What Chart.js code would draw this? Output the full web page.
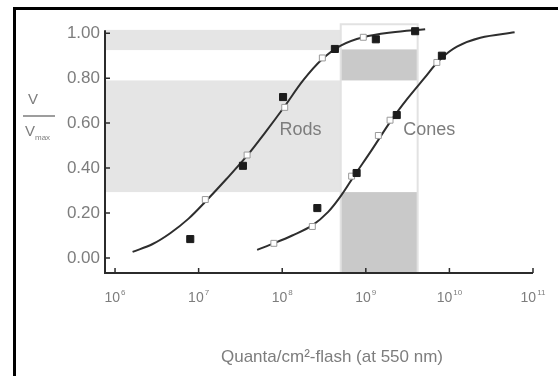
<!DOCTYPE html>
<html><head><meta charset="utf-8">
<script src="https://cdn.jsdelivr.net/npm/chart.js@4/dist/chart.umd.min.js"></script>
<style>html,body{margin:0;padding:0;background:#fff}#wrap{position:relative;width:558px;height:376px;overflow:hidden}
#frame{position:absolute;left:13px;top:7px;width:560px;height:380px;border-left:3px solid #000;border-top:3px solid #000;pointer-events:none}</style>
</head><body><div id="wrap"><canvas id="c" width="558" height="376"></canvas><div id="frame"></div></div>
<script>
// ---- data (x values as log10 exponents) ----
const xTickExps = [6, 7, 8, 9, 10, 11];
const yTickValues = [0, 0.2, 0.4, 0.6, 0.8, 1.0];

const rodsCurveExp = [6.21, 6.45, 6.66, 6.88, 7.08, 7.33, 7.58, 7.80, 8.03, 8.25, 8.48, 8.70, 8.97, 9.30, 9.71];
const rodsCurveV   = [0.027, 0.062, 0.11, 0.175, 0.25, 0.35, 0.455, 0.56, 0.675, 0.79, 0.885, 0.945, 0.982, 1.003, 1.018];
const conesCurveExp = [7.70, 7.90, 8.12, 8.36, 8.55, 8.70, 8.86, 9.07, 9.30, 9.50, 9.70, 9.88, 10.09, 10.37, 10.78];
const conesCurveV   = [0.036, 0.065, 0.10, 0.145, 0.205, 0.275, 0.365, 0.48, 0.61, 0.71, 0.80, 0.88, 0.94, 0.98, 1.004];

const rodsFilledExp = [6.90, 7.53, 8.01, 8.63, 9.12, 9.59];
const rodsFilledV   = [0.084, 0.41, 0.716, 0.93, 0.973, 1.009];
const rodsOpenExp = [7.08, 7.58, 8.03, 8.48, 8.97];
const rodsOpenV   = [0.26, 0.458, 0.67, 0.89, 0.982];
const conesFilledExp = [8.42, 8.89, 9.37, 9.91];
const conesFilledV   = [0.222, 0.378, 0.636, 0.90];
const conesOpenExp = [7.90, 8.36, 8.83, 9.15, 9.29, 9.85];
const conesOpenV   = [0.065, 0.14, 0.364, 0.545, 0.613, 0.87];

// shaded ranges: [x0Exp, x1Exp, v0, v1]
const rodRangeBands  = [[5.88, 8.70, 0.925, 1.015], [5.88, 8.70, 0.293, 0.79]];
const coneRangeBands = [[8.70, 9.62, 0.79, 0.928], [8.70, 9.62, -0.067, 0.293]];
const coneColumn = [8.70, 9.62, -0.067, 1.04];

const curveLabels = ["Rods", "Cones"];
const curveLabelExp = [8.22, 9.76];
const curveLabelV = [0.57, 0.57];

const xTitle = 'Quanta/cm²-flash (at 550 nm)';
const xTickBase = '10';
const xMinExp = 5.88, xMaxExp = 11;
const yMin = -0.067, yMax = 1.05, yAxisTop = 1.013;

// ---- build ----
const pts = (ex, v) => ex.map((e, i) => ({x: Math.pow(10, e), y: v[i]}));
const FONT = "'Liberation Sans', Arial, sans-serif";
const TXT = '#7d7d7d';

const decor = {
  id: 'decor',
  beforeDatasetsDraw(chart) {
    const {ctx, scales: {x, y}} = chart;
    const X = e => x.getPixelForValue(Math.pow(10, e));
    const Y = v => y.getPixelForValue(v);
    ctx.save();
    ctx.fillStyle = '#e5e5e5';
    rodRangeBands.forEach(b => ctx.fillRect(X(b[0]), Y(b[3]), X(b[1]) - X(b[0]), Y(b[2]) - Y(b[3])));
    ctx.fillStyle = '#c9c9c9';
    coneRangeBands.forEach(b => ctx.fillRect(X(b[0]), Y(b[3]), X(b[1]) - X(b[0]), Y(b[2]) - Y(b[3])));
    ctx.strokeStyle = '#e2e2e2'; ctx.lineWidth = 2;
    ctx.strokeRect(X(coneColumn[0]), Y(coneColumn[3]), X(coneColumn[1]) - X(coneColumn[0]), Y(coneColumn[2]) - Y(coneColumn[3]));
    // curve labels
    ctx.fillStyle = TXT; ctx.font = "18px " + FONT; ctx.textAlign = 'center'; ctx.textBaseline = 'middle';
    curveLabels.forEach((t, i) => ctx.fillText(t, X(curveLabelExp[i]), Y(curveLabelV[i])));
    // axes
    ctx.strokeStyle = '#2b2b2b'; ctx.lineWidth = 2;
    ctx.beginPath();
    ctx.moveTo(X(xMinExp), Y(yAxisTop)); ctx.lineTo(X(xMinExp), Y(yMin));
    ctx.lineTo(X(xMaxExp), Y(yMin));
    ctx.stroke();
    ctx.lineWidth = 1.5;
    ctx.beginPath();
    yTickValues.forEach(v => { ctx.moveTo(X(xMinExp), Y(v)); ctx.lineTo(X(xMinExp) + 5, Y(v)); });
    xTickExps.forEach(e => { ctx.moveTo(X(e), Y(yMin)); ctx.lineTo(X(e), Y(yMin) - 5); });
    ctx.stroke();
    // x tick labels: 10 with superscript exponent
    ctx.textAlign = 'left'; ctx.textBaseline = 'alphabetic'; ctx.fillStyle = TXT;
    const by = Y(yMin) + 29;
    xTickExps.forEach(e => {
      ctx.font = "14px " + FONT;
      const wb = ctx.measureText(xTickBase).width;
      ctx.font = "8px " + FONT;
      const we = ctx.measureText(String(e)).width;
      const x0 = X(e) - (wb + we + 1) / 2;
      ctx.font = "14px " + FONT;
      ctx.fillText(xTickBase, x0, by);
      ctx.font = "8px " + FONT;
      ctx.fillText(String(e), x0 + wb + 1, by - 7);
    });
    // y title  V / Vmax
    ctx.fillStyle = TXT; ctx.font = "15px " + FONT; ctx.textAlign = 'center'; ctx.textBaseline = 'middle';
    ctx.fillText('V', 33, 100);
    ctx.strokeStyle = TXT; ctx.lineWidth = 1.5;
    ctx.beginPath(); ctx.moveTo(23, 116); ctx.lineTo(55, 116); ctx.stroke();
    ctx.textAlign = 'left';
    ctx.fillText('V', 25, 132);
    ctx.font = "8px " + FONT;
    ctx.fillText('max', 35, 138);
    // x title
    ctx.font = "17px " + FONT; ctx.textAlign = 'center';
    ctx.fillText(xTitle, 332, 357);
    ctx.restore();
  }
};

const lineDs = (data, label) => ({label, data, showLine: true, pointRadius: 0, borderColor: '#2e2e2e', borderWidth: 2, tension: 0.35, order: 3});

new Chart(document.getElementById('c'), {
  type: 'scatter',
  data: {
    datasets: [
      lineDs(pts(rodsCurveExp, rodsCurveV), 'Rods curve'),
      lineDs(pts(conesCurveExp, conesCurveV), 'Cones curve'),
      {label: 'Rods open', data: pts(rodsOpenExp, rodsOpenV), pointStyle: 'rect', pointRadius: 4.2, backgroundColor: '#fff', borderColor: '#9a9a9a', borderWidth: 1, order: 2},
      {label: 'Cones open', data: pts(conesOpenExp, conesOpenV), pointStyle: 'rect', pointRadius: 4.2, backgroundColor: '#fff', borderColor: '#9a9a9a', borderWidth: 1, order: 2},
      {label: 'Rods filled', data: pts(rodsFilledExp, rodsFilledV), pointStyle: 'rect', pointRadius: 5, backgroundColor: '#1c1c1c', borderColor: '#1c1c1c', borderWidth: 1, order: 1},
      {label: 'Cones filled', data: pts(conesFilledExp, conesFilledV), pointStyle: 'rect', pointRadius: 5, backgroundColor: '#1c1c1c', borderColor: '#1c1c1c', borderWidth: 1, order: 1}
    ]
  },
  options: {
    responsive: false, animation: false, devicePixelRatio: 1,
    layout: {padding: {left: 0, right: 25, top: 22, bottom: 0}},
    plugins: {legend: {display: false}, tooltip: {enabled: false}},
    scales: {
      x: {
        type: 'logarithmic', min: Math.pow(10, xMinExp), max: Math.pow(10, xMaxExp),
        afterBuildTicks: s => { s.ticks = xTickExps.map(e => ({value: Math.pow(10, e)})); },
        afterFit: s => { s.height = 103; },
        grid: {display: false, drawTicks: false}, border: {display: false},
        ticks: {display: false}
      },
      y: {
        type: 'linear', min: yMin, max: yMax,
        afterBuildTicks: s => { s.ticks = yTickValues.map(v => ({value: v})); },
        afterFit: s => { s.width = 105; },
        grid: {display: false, drawTicks: false}, border: {display: false},
        ticks: {color: TXT, font: {family: FONT, size: 17}, padding: 5, callback: v => v.toFixed(2)}
      }
    }
  },
  plugins: [decor]
});
</script></body></html>
